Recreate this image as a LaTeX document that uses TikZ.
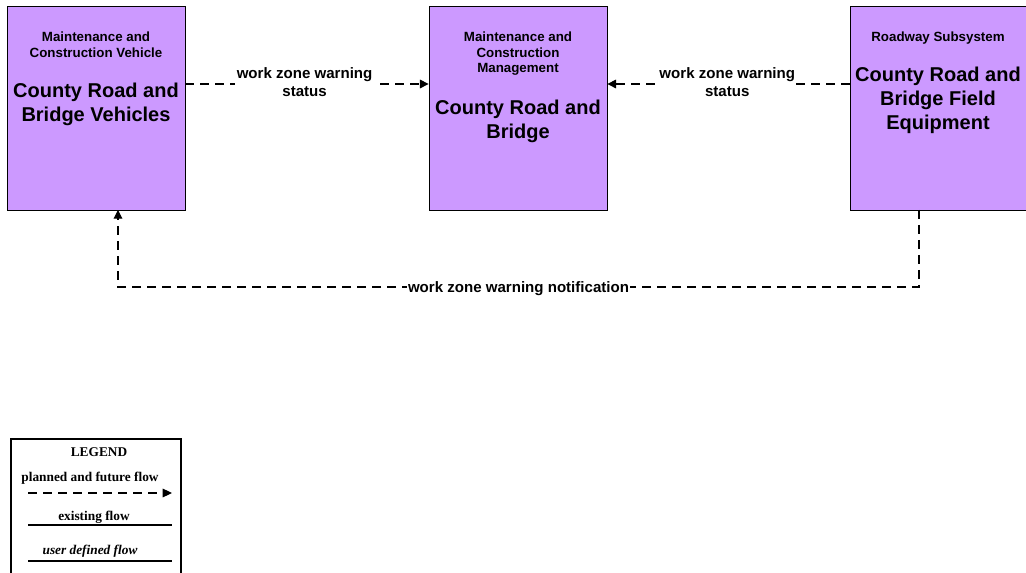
\documentclass[tikz,border=0pt]{standalone}
\usepackage{fontspec}
\setmainfont{Liberation Sans}
\newfontfamily\legendfont{Liberation Serif}
\usetikzlibrary{arrows.meta}
\begin{document}
\begin{tikzpicture}[x=0.75pt,y=-0.75pt,
  box/.style={draw=black, line width=0.6pt, fill=boxpurple, minimum width=178*0.75pt, minimum height=204*0.75pt, inner sep=0pt},
  kind/.style={font=\bfseries\fontsize{10}{11.8}\selectfont, align=center, inner sep=0pt, anchor=north},
  title/.style={font=\bfseries\fontsize{15}{18}\selectfont, align=center, inner sep=0pt, anchor=north},
  flow/.style={dash pattern=on 6.75pt off 4.5pt, line width=0.8pt, -{Triangle[length=6.5pt,width=6.5pt]}},
  flowlabel/.style={font=\bfseries\fontsize{11.3}{13.5}\selectfont, align=center, fill=white, inner sep=1pt, yshift=1.5pt},
  leg/.style={font=\legendfont\bfseries\fontsize{10}{12}\selectfont, inner sep=0pt}]
\definecolor{boxpurple}{HTML}{CC99FF}
\useasboundingbox (0,0) rectangle (1026,573);
\fill[white] (0,0) rectangle (1026,573);
% boxes
\node[box] (veh) at (96,108) {};
\node[box] (mgmt) at (518,108) {};
\node[box, minimum width=180*0.75pt] (field) at (940,108) {};
% texts
\node[kind] (vehk) at (96,32) {Maintenance and\\Construction Vehicle};
\node[title] (veht) at (96,83) {County Road and\\Bridge Vehicles};
\node[kind] (mgmtk) at (518,31.5) {Maintenance and\\Construction\\Management};
\node[title] (mgmtt) at (518,100) {County Road and\\Bridge};
\node[kind] (fieldk) at (938,31.5) {Roadway Subsystem};
\node[title] (fieldt) at (938,66.5) {County Road and\\Bridge Field\\Equipment};
% flows
\coordinate (a1) at (veh.east |- 0,84);
\coordinate (a2) at (mgmt.west |- 0,84);
\draw[flow] (a1) -- node[flowlabel, pos=0.49] {work zone warning\\status} (a2);
\coordinate (b1) at (field.west |- 0,84);
\coordinate (b2) at (mgmt.east |- 0,84);
\draw[flow] (b1) -- node[flowlabel, pos=0.505] {work zone warning\\status} (b2);
\coordinate (c1) at (919,210);
\coordinate (c2) at (919,287);
\coordinate (c3) at (118,287);
\coordinate (c4) at (118,210);
\draw[flow] (c1) -- (c2) -- node[flowlabel, pos=0.5, inner sep=0.5pt, yshift=-3pt] {work zone warning notification} (c3) -- (c4);
% legend
\draw[line width=0.9pt, fill=white] (11,576) -- (11,439) -- (181,439) -- (181,576);
\node[leg] (lt) at (99,452) {LEGEND};
\node[leg] (l1) at (90,478) {planned and future flow};
\coordinate (l1a) at (28,493);
\coordinate (l1b) at (172,493);
\draw[flow, -{Triangle[length=7pt,width=6.5pt]}] (l1a) -- (l1b);
\node[leg] (l2) at (94,517) {existing flow};
\coordinate (l2a) at (28,525);
\coordinate (l2b) at (172,525);
\draw[line width=0.8pt] (l2a) -- (l2b);
\node[leg, font=\legendfont\bfseries\itshape\fontsize{10}{12}\selectfont] (l3) at (90,551) {user defined flow};
\coordinate (l3a) at (28,561);
\coordinate (l3b) at (172,561);
\draw[line width=0.8pt] (l3a) -- (l3b);
\end{tikzpicture}
\end{document}
